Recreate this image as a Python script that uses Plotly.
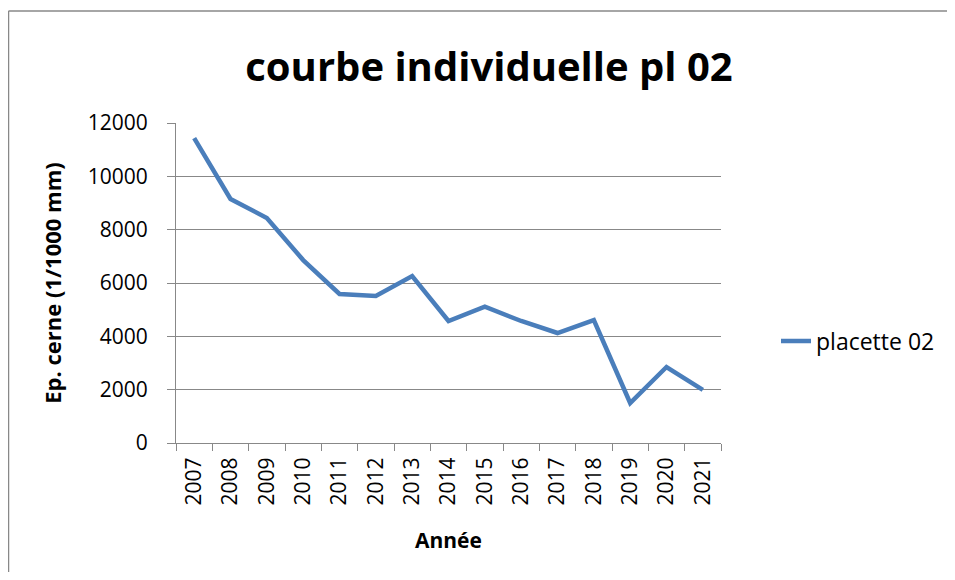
import plotly.graph_objects as go

years = ["2007", "2008", "2009", "2010", "2011", "2012", "2013", "2014",
         "2015", "2016", "2017", "2018", "2019", "2020", "2021"]
values = [11430, 9150, 8440, 6860, 5590, 5510, 6260, 4575,
          5110, 4575, 4125, 4610, 1500, 2850, 1990]
y_ticks = [0, 2000, 4000, 6000, 8000, 10000, 12000]

# page offset of the plot div (default body margin)
OFF = 8
W, H = 955 - 2 * OFF, 580 - 2 * OFF
L = 176 - OFF
T = 123 - OFF
R = W - (721 - OFF)
B = H - (443 - OFF)
pw, ph = W - L - R, H - T - B

def px_x(px):
    return (px - OFF - L) / pw

def px_y(py):
    return (H - B - (py - OFF)) / ph

fig = go.Figure()
fig.add_trace(go.Scatter(
    x=years, y=values, mode="lines", name="placette 02",
    line=dict(color="#4a7ebb", width=4.5),
))

fig.update_layout(
    width=W, height=H,
    margin=dict(l=L, r=R, t=T, b=B, autoexpand=False),
    paper_bgcolor="white", plot_bgcolor="white",
    font=dict(family="Open Sans", color="black", size=21),
    title=dict(text="<b>courbe individuelle pl 02</b>", xref="container",
               x=(489 - OFF) / W, xanchor="center",
               yref="container", y=1 - (67 - OFF) / H, yanchor="middle",
               font=dict(size=40, family="Open Sans", color="black")),
    showlegend=True,
    legend=dict(x=px_x(776), xanchor="left", y=px_y(341), yanchor="middle",
                font=dict(size=23, family="Open Sans"), bgcolor="rgba(0,0,0,0)"),
    xaxis=dict(
        type="category", range=[-0.5, 14.5], tickangle=-90,
        tickson="boundaries", ticks="outside", ticklen=7, tickcolor="#888888",
        showline=True, linecolor="#888888", linewidth=1, showgrid=False,
        tickfont=dict(size=21), ticklabelstandoff=5,
        title=dict(text="<b>Année</b>", font=dict(size=21), standoff=28),
    ),
    yaxis=dict(
        range=[0, 12000], tickvals=y_ticks, tickformat="d", ticks="outside", ticklen=8,
        tickcolor="#888888", showline=True, linecolor="#888888", linewidth=1,
        showgrid=True, gridcolor="#888888", gridwidth=1, zeroline=False,
        tickfont=dict(size=21), ticklabelstandoff=15,
        title=dict(text="<b>Ep. cerne (1/1000 mm)</b>", font=dict(size=22), standoff=20),
    ),
)

# outer chart-area frame (only left and top edges fall inside the picture)
fig.add_shape(type="line", xref="paper", yref="paper",
              x0=px_x(OFF + 0.5), x1=px_x(OFF + 0.5), y0=px_y(600), y1=px_y(11),
              line=dict(color="#888888", width=1.5), layer="below")
fig.add_shape(type="line", xref="paper", yref="paper",
              x0=px_x(OFF + 0.5), x1=px_x(980), y0=px_y(11), y1=px_y(11),
              line=dict(color="#888888", width=1.5), layer="below")

fig.write_html("out.html")
